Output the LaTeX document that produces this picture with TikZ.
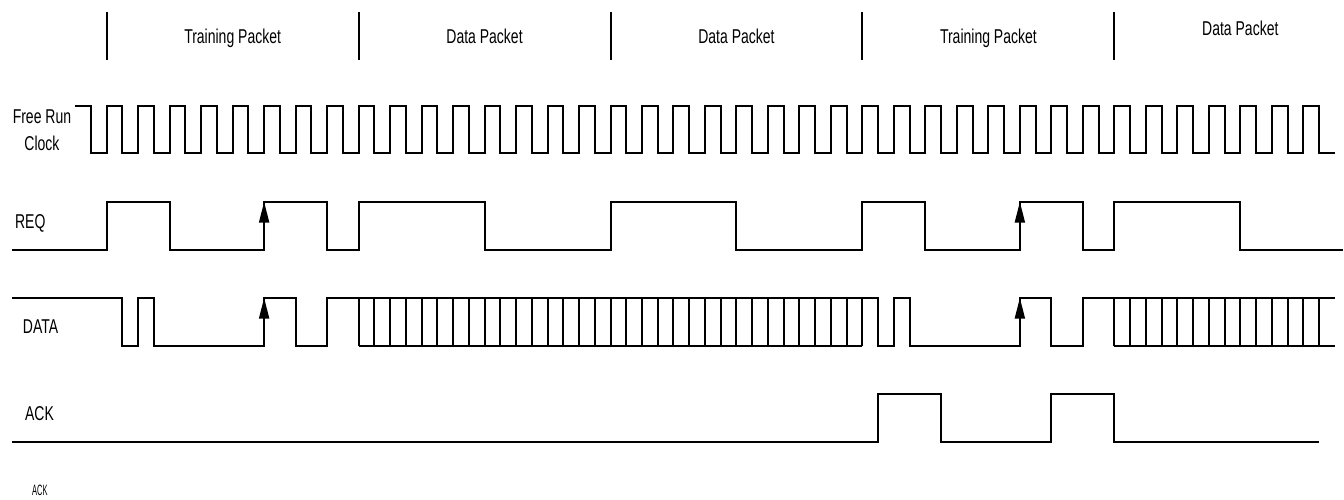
\documentclass[tikz,border=0pt]{standalone}
\usepackage{fontspec}
\newfontfamily\sigfont{Liberation Sans}[FakeStretch=0.7]
\newfontfamily\tinyfont{Liberation Sans}[FakeStretch=0.5]
\usetikzlibrary{arrows.meta}
\begin{document}
\begin{tikzpicture}[x=15.745pt,y=-1pt,
 wave/.style={line width=2pt},
 edge/.style={line width=2pt,-{Triangle[length=21pt,width=10pt]}},
 every node/.style={inner sep=0pt,font=\sigfont\fontsize{20}{27}\selectfont}]
\useasboundingbox (-6.775,0) rectangle (78.586,499);
% packet boundaries
\foreach \t in {0,16,32,48,64} \draw[wave] (\t,12) -- (\t,60);
\node[anchor=base] (pkt1) at (8,43) {Training Packet};
\node[anchor=base] (pkt2) at (24,43) {Data Packet};
\node[anchor=base] (pkt3) at (40,43) {Data Packet};
\node[anchor=base] (pkt4) at (56,43) {Training Packet};
\node[anchor=base] (pkt5) at (72,35) {Data Packet};
% signal names
\node[anchor=base,align=center] (clk) at (-4.11,150) {Free Run\\Clock};
\node[anchor=base west] (req) at (-5.83,228) {REQ};
\node[anchor=base west] (data) at (-5.33,333) {DATA};
\node[anchor=base west] (ack) at (-5.19,420) {ACK};
\node[anchor=base west,font=\tinyfont\fontsize{15}{15}\selectfont] (ackb) at (-4.74,495) {ACK};
% clock
\draw[wave] (-2,105.5) -| (-1,153) \foreach \i in {0,2,...,76} { -| (\i,105.5) -| (\i+1,153) } -- (78,153);
% request
\draw[wave] (-6,250) -| (0,201.7) -| (4,250) -| (10,201.7) -| (14,250) -| (16,201.7) -| (24,250)
 -| (32,201.7) -| (40,250) -| (48,201.7) -| (52,250) -| (58,201.7) -| (62,250) -| (64,201.7)
 -| (72,250) -- (78.5,250);
\draw[edge] (10,250) -- (10,201.7);
\draw[edge] (58,250) -- (58,201.7);
% data
\draw[wave] (-6,297.7) -| (1,346) -| (2,297.7) -| (3,346) -| (10,297.7) -| (12,346) -| (14,297.7)
 -- (48,297.7) -| (49,346) -| (50,297.7) -| (51,346) -| (58,297.7) -| (60,346) -| (62,297.7) -- (78,297.7);
\draw[wave] (16,346) -- (48,346) (64,346) -- (78,346);
\foreach \i in {16,...,48} \draw[wave] (\i,297.7) -- (\i,346);
\foreach \i in {64,...,77} \draw[wave] (\i,297.7) -- (\i,346);
\draw[edge] (10,346) -- (10,297.7);
\draw[edge] (58,346) -- (58,297.7);
% acknowledge
\draw[wave] (-6,441.7) -| (49,394) -| (53,441.7) -| (60,394) -| (64,441.7) -- (77,441.7);
\end{tikzpicture}
\end{document}
